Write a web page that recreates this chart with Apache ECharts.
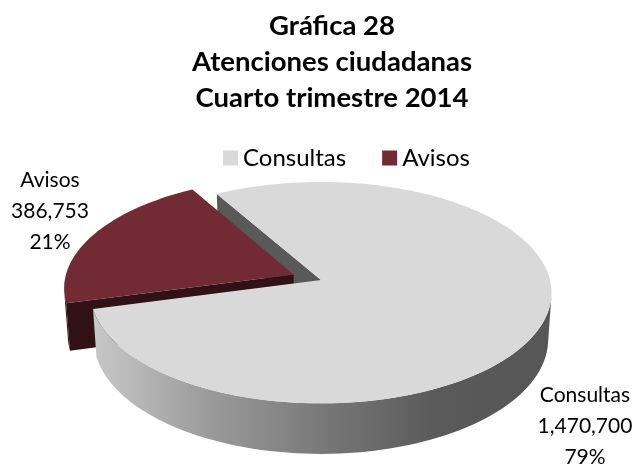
<!DOCTYPE html>
<html>
<head>
<meta charset="utf-8">
<script src="https://cdn.jsdelivr.net/npm/echarts@6/dist/echarts.min.js"></script>
<style>
  html, body { margin: 0; padding: 0; background: #fff; }
  #chart { width: 635px; height: 464px; }
</style>
</head>
<body>
<div id="chart"></div>
<script>
// data
const categories = ["Consultas", "Avisos"];
const values = [1470700, 386753];
const exploded = [false, true];

const FONT = "Lato";
const total = values.reduce((a, b) => a + b, 0);

// simple perspective view of a tilted disc
const CX = 321, CY = 280, F = 229;
const PHI = 28.5 * Math.PI / 180, SN = Math.sin(PHI), CS = Math.cos(PHI);
const PERSP = 0.13, THICK = 0.235, EXPLODE = 0.13;
const START = 240; // first slice start angle (deg, clockwise on screen)

function proj(x, z, y) {
  const sd = z * SN - y * CS;
  const dist = 1 - PERSP * (z * CS + y * SN);
  return [CX + F * x / dist, CY + F * sd / dist];
}

// slice angles from the values
const slices = [];
let acc = START;
values.forEach((v, i) => {
  const span = v / total * 360;
  slices.push({ s: acc, e: acc + span });
  acc += span;
});

const rad = d => d * Math.PI / 180;

function arc(ox, oz, y, a0, a1) {
  const pts = [];
  const n = Math.max(2, Math.ceil(Math.abs(a1 - a0) / 2));
  for (let k = 0; k <= n; k++) {
    const t = rad(a0 + (a1 - a0) * k / n);
    pts.push(proj(ox + Math.cos(t), oz + Math.sin(t), y));
  }
  return pts;
}

const sideGrad = new echarts.graphic.LinearGradient(0, 0, 1, 0, [
  { offset: 0, color: "#c8c8c8" },
  { offset: 0.25, color: "#9b9b9b" },
  { offset: 0.55, color: "#727272" },
  { offset: 0.75, color: "#5a5a5a" },
  { offset: 1, color: "#565656" }
]);

const styles = [
  { top: "#d9d9d9", side: sideGrad, cut: "#595959" },
  { top: "#722b35", side: "#2f1116", cut: "#2f1116" }
];

const labelPos = [[585, 426], [50, 211]];

function makeRender(i) {
  return function (params, api) {
    const val = api.value(0);
    const sl = slices[i];
    const st = styles[i];
    let ox = 0, oz = 0;
    if (exploded[i]) {
      const m = rad((sl.s + sl.e) / 2);
      ox = EXPLODE * Math.cos(m);
      oz = EXPLODE * Math.sin(m);
    }
    const base = exploded[i] ? 2 : 4;
    const children = [];

    // radial cut faces
    const edges = [[sl.s, -Math.cos(rad(sl.s)) > 0], [sl.e, Math.cos(rad(sl.e)) > 0]];
    edges.forEach(([a, vis]) => {
      if (!vis) return;
      const t = rad(a);
      const pts = [
        proj(ox, oz, 0),
        proj(ox + Math.cos(t), oz + Math.sin(t), 0),
        proj(ox + Math.cos(t), oz + Math.sin(t), -THICK),
        proj(ox, oz, -THICK)
      ];
      children.push({ type: "polygon", z2: exploded[i] ? 2 : 1,
        shape: { points: pts }, style: { fill: st.cut } });
    });

    // outer rim, only the part facing the viewer
    const lim = Math.asin(PERSP / CS) * 180 / Math.PI;
    [[lim, 180 - lim], [lim + 360, 540 - lim]].forEach(([v0, v1]) => {
      const a0 = Math.max(sl.s, v0), a1 = Math.min(sl.e, v1);
      if (a1 <= a0) return;
      const pts = arc(ox, oz, 0, a0, a1).concat(arc(ox, oz, -THICK, a1, a0));
      children.push({ type: "polygon", z2: base,
        shape: { points: pts }, style: { fill: st.side } });
    });

    // top face
    const topPts = [proj(ox, oz, 0)].concat(arc(ox, oz, 0, sl.s, sl.e));
    children.push({ type: "polygon", z2: base + 1,
      shape: { points: topPts }, style: { fill: st.top } });

    // data label
    const pct = Math.round(val / total * 100);
    children.push({
      type: "text", z2: 10,
      style: {
        text: categories[i] + "\n" + val.toLocaleString("en-US") + "\n" + pct + "%",
        x: labelPos[i][0], y: labelPos[i][1],
        align: "center", verticalAlign: "middle",
        font: "21px " + FONT, lineHeight: 31, fill: "#000"
      }
    });
    return { type: "group", children };
  };
}

const chart = echarts.init(document.getElementById("chart"));
chart.setOption({
  animation: false,
  title: {
    text: "Gráfica 28\nAtenciones ciudadanas\nCuarto trimestre 2014",
    left: 327, top: 3, textAlign: "center",
    textStyle: { fontFamily: FONT, fontSize: 27.5, fontWeight: "bold",
      color: "#000", lineHeight: 36 }
  },
  legend: {
    data: categories,
    left: 218, top: 141,
    icon: "rect", itemWidth: 15, itemHeight: 15, itemGap: 36,
    textStyle: { fontFamily: FONT, fontSize: 24, color: "#000" }
  },
  series: categories.map((name, i) => ({
    type: "custom",
    name,
    coordinateSystem: "none",
    itemStyle: { color: styles[i].top },
    renderItem: makeRender(i),
    data: [[values[i]]]
  }))
});
</script>
</body>
</html>
